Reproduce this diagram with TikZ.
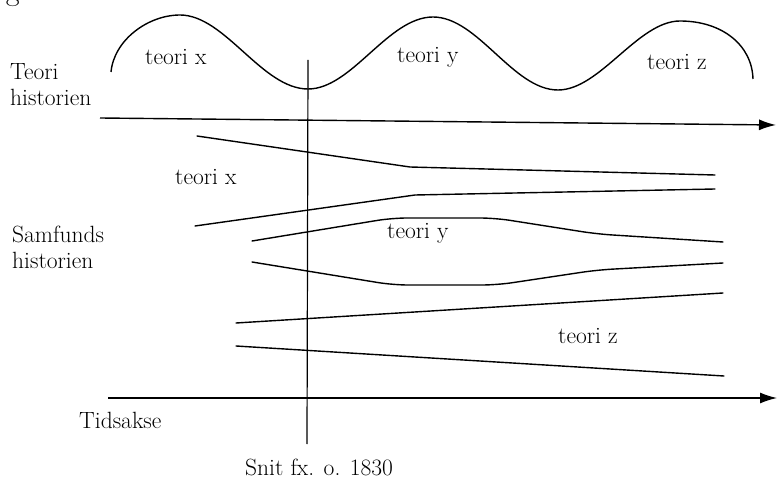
\documentclass[tikz,border=0pt]{standalone}
\usepackage{tikz}
\usetikzlibrary{positioning, arrows.meta}
\tikzset{
	strand/.style={line width=1.4pt, line join=round, line cap=round},
	wave/.style={line width=1.4pt},
	timeaxis/.style={line width=1.4pt, -{Latex[length=17pt, width=11pt]}},
	snit/.style={line width=1.2pt},
	lbl/.style={font=\fontsize{23.5}{26}\selectfont, inner sep=0pt},
	sidelbl/.style={lbl, align=left, anchor=west}
}

\begin{document}
\begin{tikzpicture}[x=1pt, y=-1pt]
\useasboundingbox (0,0) rectangle (777,481);
% caption, cut off at the top
\begin{scope}
\clip (0,0) rectangle (777,481);
\node [anchor=base west, inner sep=0pt, font=\fontsize{30}{34}\selectfont] (fig) at (-20,1) {Fig. 1.};
\end{scope}

% the history of theories
\coordinate (w0) at (111,72);
\coordinate (w1) at (180,15);
\coordinate (w2) at (308,89);
\coordinate (w3) at (433,17);
\coordinate (w4) at (558,90);
\coordinate (w5) at (680,21);
\coordinate (w6) at (753,79);
\draw [wave] (w0) .. controls (114,40) and (148,15) .. (w1)
	.. controls (225,15) and (262,89) .. (w2)
	.. controls (352,89) and (388,17) .. (w3)
	.. controls (478,17) and (513,90) .. (w4)
	.. controls (600,90) and (638,21) .. (w5)
	.. controls (722,21) and (752,45) .. (w6);
\node [lbl, anchor=base west] (tx) at (145,65) {teori x};
\node [lbl, anchor=base west] (ty) at (397,63) {teori y};
\node [lbl, anchor=base west] (tz) at (647,70) {teori z};

\node [sidelbl] (teorihist) at (10,85) {Teori\\historien};
\coordinate (ta0) at (100,118);
\coordinate (ta1) at (776,125);
\draw [timeaxis] (ta0) -- (ta1);

% the strands in the history of society
\coordinate (x0) at (197,136);
\coordinate (x1) at (410,167);
\coordinate (x2) at (715,175);
\draw [strand] (x0) -- (x1) -- (x2);
\coordinate (x3) at (195,226);
\coordinate (x4) at (415,195);
\coordinate (x5) at (715,189);
\draw [strand] (x3) -- (x4) -- (x5);
\node [lbl, anchor=base west] (sx) at (175,185) {teori x};

\coordinate (y0) at (252,241);
\coordinate (y1) at (392,218);
\coordinate (y2) at (495,218);
\coordinate (y3) at (597,234);
\coordinate (y4) at (723,242);
\draw [strand, rounded corners=15pt] (y0) -- (y1) -- (y2) -- (y3) -- (y4);
\coordinate (y5) at (252,262);
\coordinate (y6) at (393,285);
\coordinate (y7) at (497,285);
\coordinate (y8) at (597,270);
\coordinate (y9) at (723,263);
\draw [strand, rounded corners=15pt] (y5) -- (y6) -- (y7) -- (y8) -- (y9);
\node [lbl, anchor=base west] (sy) at (387,239) {teori y};

\coordinate (z0) at (236,323);
\coordinate (z1) at (723,293);
\draw [strand] (z0) -- (z1);
\coordinate (z2) at (236,346);
\coordinate (z3) at (724,376);
\draw [strand] (z2) -- (z3);
\node [lbl, anchor=base west] (sz) at (558,343) {teori z};

\node [sidelbl] (samfhist) at (12,247) {Samfunds\\historien};

% time axis and the cut
\coordinate (tid0) at (108,398);
\coordinate (tid1) at (777,398);
\draw [timeaxis] (tid0) -- (tid1);
\node [lbl, anchor=base west] (tidsakse) at (79,428) {Tidsakse};

\coordinate (snit0) at (308,60);
\coordinate (snit1) at (307,444);
\draw [snit] (snit0) -- (snit1);
\node [lbl, anchor=base west] (snitlbl) at (245,475) {Snit fx. o. 1830};
\end{tikzpicture}
\end{document}
